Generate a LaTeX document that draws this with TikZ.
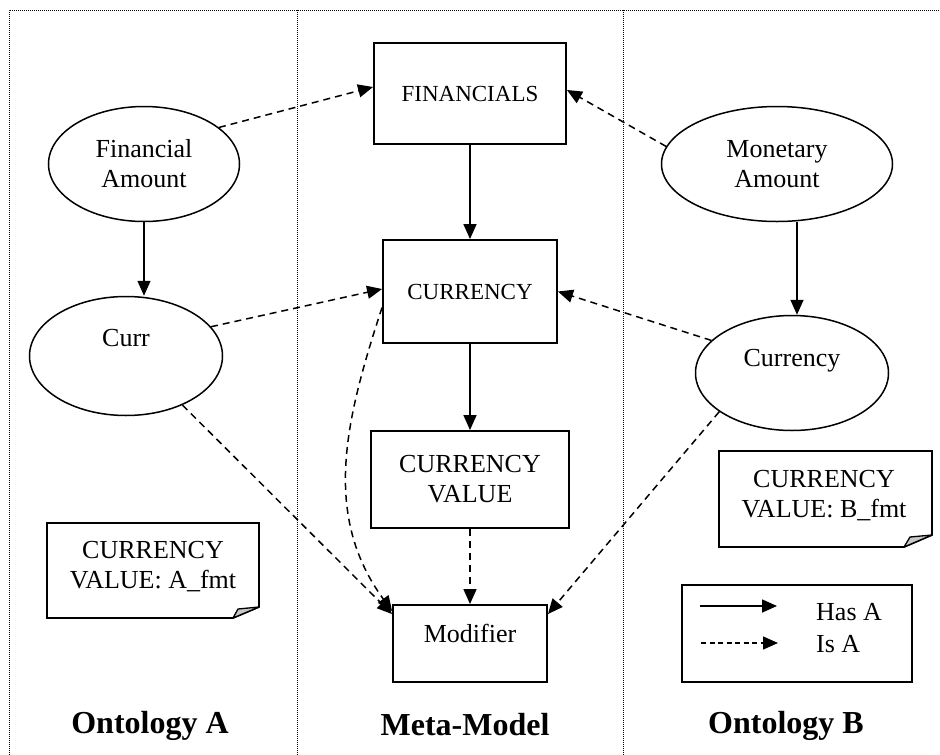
\documentclass[tikz,border=0pt]{standalone}
\usepackage{fontspec}
\setmainfont{Liberation Serif}
\usetikzlibrary{arrows.meta,shapes.geometric}

\begin{document}
\begin{tikzpicture}[x=1pt,y=-1pt,
  every node/.style={font=\fontsize{26}{30}\selectfont, inner sep=0pt},
  oval/.style={ellipse, draw, line width=1.5pt, minimum width=192pt, minimum height=116pt, align=center},
  box/.style={rectangle, draw, line width=1.9pt, align=center},
  capsfont/.style={font=\fontsize{23}{27}\selectfont},
  tip/.style={-{Triangle[length=15pt,width=13pt]}},
  hasa/.style={tip, line width=1.6pt},
  isa/.style={tip, line width=1.5pt, dash pattern=on 7pt off 5pt},
  lane/.style={line width=1pt, dash pattern=on 1pt off 1pt},
  caption/.style={font=\fontsize{32}{36}\selectfont\bfseries, anchor=base},
  note/.style={line width=1.7pt, fill=white, line join=miter},
  fold/.style={line width=1.3pt, fill=black!22, line join=round}
]
\useasboundingbox (0,0) rectangle (940,755);

% column separators
\draw[lane] (9,755) -- (9,10) -- (940,10);
\draw[lane] (297,10) -- (297,755);
\draw[lane] (623,10) -- (623,755);

% ontology A
\node[oval, minimum width=191pt, minimum height=115pt] (finamt) at (144,164) {Financial\\Amount};
\node[oval, minimum width=193pt, minimum height=119pt] (curr) at (126,356) {};
\node[anchor=base] (currtxt) at (126,346) {Curr};

% ontology B
\node[oval, minimum width=231pt, minimum height=115pt] (monamt) at (777,164) {Monetary\\Amount};
\node[oval, minimum width=193pt, minimum height=115pt] (cy) at (792,373) {};
\node[anchor=base] (cytxt) at (792,366) {Currency};

% meta-model
\node[box, capsfont, minimum width=192pt, minimum height=101pt] (fin) at (470,93.5) {FINANCIALS};
\node[box, capsfont, minimum width=174pt, minimum height=103pt] (cur) at (470,291.5) {CURRENCY};
\node[box, minimum width=198pt, minimum height=97pt] (cval) at (470,479.5) {CURRENCY\\VALUE};
\node[box, minimum width=154pt, minimum height=77pt] (mod) at (470,643.5) {};
\node[anchor=base] (modtxt) at (470,642) {Modifier};

% value notes with a turned-up corner
\draw[note] (47,523) -- (259,523) -- (259,607) -- (233,618) -- (47,618) -- cycle;
\draw[fold] (233,618) -- (238,609) -- (259,607) -- cycle;
\node[align=center] (notea) at (153,567) {CURRENCY\\VALUE: A\_fmt};

\draw[note] (719,451) -- (932,451) -- (932,535) -- (904,547) -- (719,547) -- cycle;
\draw[fold] (904,547) -- (910,537) -- (932,535) -- cycle;
\node[align=center] (noteb) at (824,496) {CURRENCY\\VALUE: B\_fmt};

% has-a links
\draw[hasa] (finamt.south) -- (finamt.south |- curr.north);
\draw[hasa] ([xshift=20pt]monamt.south) -- ([xshift=5pt]cy.north);
\draw[hasa] (fin) -- (cur);
\draw[hasa] (cur) -- (cval);

% is-a links
\draw[isa] (finamt.26) -- ([yshift=6.5pt]fin.west);
\draw[isa] (monamt.171) -- ([yshift=3.5pt]fin.east);
\draw[isa] (curr.19) -- ([yshift=2.5pt]cur.west);
\draw[isa] (cy.158) -- (cur.east);
\draw[isa] (cval) -- (mod);
\draw[isa] (curr.-41) -- ([yshift=-10pt]mod.north west);
\draw[isa] (cy.208) -- ([yshift=-10pt]mod.north east);
\draw[isa] ([yshift=-16pt]cur.west) .. controls +(-37,113) and +(-70,-96) .. ([yshift=-7pt]mod.north west);

% legend
\node[draw, line width=1.9pt, minimum width=230pt, minimum height=97pt] (legend) at (797,633.5) {};
\coordinate (hasfrom) at (700,606);
\coordinate (hasto) at (777,606);
\coordinate (isfrom) at (701,643);
\coordinate (isto) at (778,643);
\draw[hasa] (hasfrom) -- (hasto);
\draw[tip, line width=1.4pt, dash pattern=on 5pt off 3.5pt] (isfrom) -- (isto);
\node[anchor=base west] (haslbl) at (816,620) {Has A};
\node[anchor=base west] (islbl) at (816,652) {Is A};

% column captions
\node[caption] (capa) at (150,733) {Ontology A};
\node[caption] (capm) at (465,735) {Meta-Model};
\node[caption] (capb) at (786,733) {Ontology B};
\end{tikzpicture}
\end{document}
